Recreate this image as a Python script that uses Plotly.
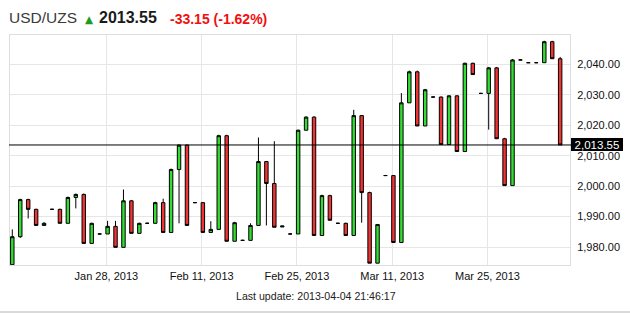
import plotly.graph_objects as go
import pandas as pd

# ---- data (Mon-Sat trading days) ----
dates = ["2013-01-14","2013-01-15","2013-01-16","2013-01-17","2013-01-18","2013-01-19",
         "2013-01-21","2013-01-22","2013-01-23","2013-01-24","2013-01-25","2013-01-26",
         "2013-01-28","2013-01-29","2013-01-30","2013-01-31","2013-02-01","2013-02-02",
         "2013-02-04","2013-02-05","2013-02-06","2013-02-07","2013-02-08","2013-02-09",
         "2013-02-11","2013-02-12","2013-02-13","2013-02-14","2013-02-15","2013-02-16",
         "2013-02-18","2013-02-19","2013-02-20","2013-02-21","2013-02-22","2013-02-23",
         "2013-02-25","2013-02-26","2013-02-27","2013-02-28","2013-03-01","2013-03-02",
         "2013-03-04","2013-03-05","2013-03-06","2013-03-07","2013-03-08","2013-03-09",
         "2013-03-11","2013-03-12","2013-03-13","2013-03-14","2013-03-15","2013-03-16",
         "2013-03-18","2013-03-19","2013-03-20","2013-03-21","2013-03-22","2013-03-23",
         "2013-03-25","2013-03-26","2013-03-27","2013-03-28","2013-03-29","2013-03-30",
         "2013-04-01","2013-04-02","2013-04-03","2013-04-04"]

open_ = [1974.2,1983.4,1995.6,1992.4,1987.1,1992.4,
         1992.4,1987.8,1996.3,1997.3,1981.2,1984.3,
         1984.3,1986.8,1979.9,1995.2,1984.5,1987.8,
         1987.8,1994.6,1984.8,2005.5,2013.5,1994.6,
         1994.6,1984.8,1985.8,2016.6,1981.9,1982.2,
         1982.2,1987.1,2008.1,2000.9,1986.6,1984.3,
         1984.3,2018.4,2022.7,1983.8,1996.9,1987.8,
         1987.8,1983.8,2023.2,1997.9,1974.7,2003.5,
         2003.5,1981.5,2027.4,2037.6,2019.8,2029.3,
         2029.3,2013.7,2029.7,2011.4,2040.4,2030.5,
         2030.5,2038.9,2015.6,2000.2,2041.5,2040.6,
         2040.6,2040.6,2047.5,2041.9]

high = [1985.8,1995.9,1995.9,1992.6,1988.2,1992.6,
        1992.6,1996.6,1997.6,1997.6,1988.0,1984.5,
        1988.6,1988.6,1998.9,1995.4,1988.0,1988.0,
        1994.9,1995.9,2005.8,2013.7,2013.7,1994.8,
        1994.8,1988.5,2016.9,2016.9,1988.3,1982.4,
        1987.8,2016.0,2008.3,2014.8,1987.0,1984.5,
        2018.6,2023.0,2023.0,1997.2,1997.2,1988.0,
        1988.0,2025.1,2023.4,1998.2,1987.6,2003.7,
        2003.7,2030.6,2038.0,2038.0,2032.0,2029.5,
        2029.5,2029.9,2029.9,2040.6,2040.6,2030.7,
        2039.2,2039.2,2015.9,2041.8,2041.7,2040.8,
        2040.8,2047.8,2047.8,2042.5]

low = [1974.2,1983.0,1989.4,1987.1,1987.1,1992.4,
       1987.8,1987.8,1992.7,1981.2,1981.2,1984.3,
       1984.3,1979.9,1979.9,1984.5,1984.5,1987.8,
       1987.8,1984.8,1984.8,1987.8,1987.1,1994.6,
       1984.8,1984.8,1985.8,1981.9,1981.9,1982.2,
       1982.2,1987.1,1987.1,1986.5,1986.6,1984.3,
       1984.3,2018.4,1983.8,1983.8,1988.8,1987.8,
       1983.8,1983.8,1988.0,1974.7,1974.7,2003.5,
       1981.5,1981.5,2027.4,2019.8,2019.8,2029.3,
       2013.7,2013.7,2011.4,2011.4,2036.7,2030.5,
       2018.6,2015.6,2000.2,2000.2,2041.5,2040.6,
       2040.6,2040.6,2041.9,2013.55]

close = [1983.4,1995.6,1992.4,1987.1,1987.8,1992.4,
         1987.8,1996.3,1997.3,1981.2,1987.8,1984.3,
         1986.8,1979.9,1995.2,1984.5,1987.8,1987.8,
         1994.6,1984.8,2005.5,2013.5,1987.1,1994.6,
         1984.8,1985.8,2016.6,1981.9,1988.0,1982.2,
         1987.1,2008.1,2000.9,1986.5,1986.9,1984.3,
         2018.4,2022.7,1983.8,1996.9,1988.8,1987.8,
         1983.8,2023.2,1997.9,1974.7,1987.4,2003.5,
         1981.5,2027.4,2037.6,2019.8,2031.7,2029.3,
         2013.7,2029.7,2011.4,2040.4,2036.7,2030.5,
         2038.9,2015.6,2000.2,2041.5,2041.5,2040.6,
         2040.6,2047.5,2041.9,2013.55]

tick_dates = ["2013-01-28", "2013-02-11", "2013-02-25", "2013-03-11", "2013-03-25"]
tick_labels = ["Jan 28, 2013", "Feb 11, 2013", "Feb 25, 2013", "Mar 11, 2013", "Mar 25, 2013"]

last_price = 2013.55
symbol = "USD/UZS"
change_text = "-33.15 (-1.62%)"
update_text = "Last update: 2013-04-04 21:46:17"

# ---- layout helpers ----
W, H = 630, 313
PL, PR, PT, PB = 10, 570, 35, 265
def fx(px):
    return (px - PL) / (PR - PL)
def fy(py):
    return (PB - py) / (PB - PT)

FONT = "Liberation Sans, Arial, sans-serif"

# trading-day index axis (no Sundays)
xpos = list(range(len(dates)))
tickvals = [dates.index(d) - 0.15 for d in tick_dates]

fig = go.Figure(go.Candlestick(
    x=xpos, open=open_, high=high, low=low, close=close,
    increasing=dict(line=dict(color="black", width=1), fillcolor="#33dd33"),
    decreasing=dict(line=dict(color="black", width=1), fillcolor="#f03333"),
    whiskerwidth=0, hoverinfo="skip", showlegend=False,
))

fig.update_layout(
    width=W, height=H,
    margin=dict(l=PL, r=W - PR, t=PT, b=H - PB),
    paper_bgcolor="white", plot_bgcolor="white",
    font=dict(family=FONT, size=11, color="#111"),
    boxgap=0.38,
    xaxis=dict(
        range=[-0.29, 70.24], rangeslider=dict(visible=False),
        tickvals=tickvals, ticktext=tick_labels,
        showgrid=True, gridcolor="#e6e6e6", gridwidth=1,
        showline=True, linecolor="#dedede", linewidth=1, mirror=True,
        zeroline=False, ticks="", tickfont=dict(size=11, color="#111"),
        ticklabelstandoff=1,
    ),
    yaxis=dict(
        side="right", range=[1974.1, 2049.7], dtick=10, tick0=1980,
        tickformat=",.2f",
        showgrid=True, gridcolor="#e6e6e6", gridwidth=1,
        showline=True, linecolor="#dedede", linewidth=1, mirror=True,
        zeroline=False, ticks="", tickfont=dict(size=11, color="#111"),
        ticklabelstandoff=4,
    ),
)

shapes = [
    dict(type="line", xref="paper", yref="y", x0=fx(9), x1=fx(571),
         y0=last_price, y1=last_price, line=dict(color="black", width=1)),
    dict(type="line", xref="paper", yref="paper", x0=fx(0), x1=fx(630),
         y0=fy(312), y1=fy(312), line=dict(color="#cccccc", width=1.5)),
]
fig.update_layout(shapes=shapes)

ann = [
    dict(text=f"{last_price:,.2f}", xref="paper", yref="y", x=fx(570.5), y=last_price,
         xanchor="left", yanchor="middle", showarrow=False,
         bgcolor="black", font=dict(color="white", size=11.5, family=FONT),
         width=52, height=13, borderpad=0, borderwidth=0, align="center"),
    dict(text=symbol, xref="paper", yref="paper", x=fx(6.5), y=fy(17.5),
         xanchor="left", yanchor="middle", showarrow=False,
         font=dict(size=15.5, color="#3a3a3a", family=FONT)),
    dict(text="▲", xref="paper", yref="paper", x=fx(82.5), y=fy(19),
         xanchor="left", yanchor="middle", showarrow=False,
         font=dict(size=10.5, color="#1c9c1c", family="DejaVu Sans")),
    dict(text=f"<b>{last_price:.2f}</b>", xref="paper", yref="paper", x=fx(96.5), y=fy(17.5),
         xanchor="left", yanchor="middle", showarrow=False,
         font=dict(size=16, color="#1a1a1a", family=FONT)),
    dict(text=f"<b>{change_text}</b>", xref="paper", yref="paper", x=fx(167.5), y=fy(18.5),
         xanchor="left", yanchor="middle", showarrow=False,
         font=dict(size=14, color="#f01010", family=FONT)),
    dict(text=update_text, xref="paper", yref="paper", x=fx(315.5), y=fy(296),
         xanchor="center", yanchor="middle", showarrow=False,
         font=dict(size=10.6, color="#222", family=FONT)),
]
fig.update_layout(annotations=ann)

fig.write_html("out.html")
